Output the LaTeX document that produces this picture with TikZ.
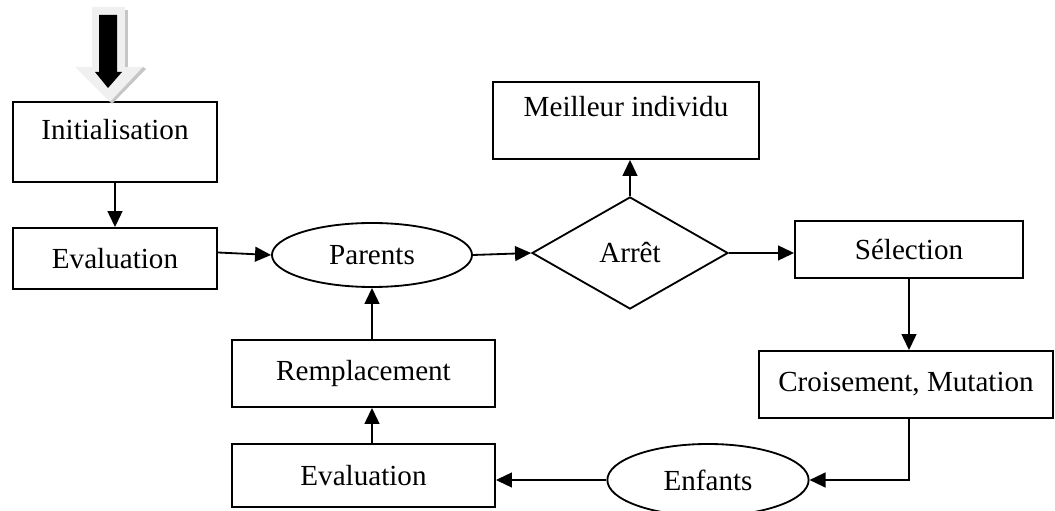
\documentclass[tikz,border=0pt]{standalone}
\usepackage{fontspec}
\setmainfont{Liberation Serif}
\usetikzlibrary{shapes.geometric,arrows.meta}

\begin{document}
\begin{tikzpicture}[x=0.025cm,y=-0.025cm,
    line width=1.3pt,
    font=\fontsize{20.7pt}{24pt}\selectfont,
    box/.style={draw,rectangle,inner sep=0pt},
    oval/.style={draw,ellipse,inner sep=0pt},
    >={Triangle[length=0.4cm,width=0.37cm]}]
\useasboundingbox (0,0) rectangle (1055,511);

\node (init) at (115,142) [box,minimum width=5.1cm,text height=0.95cm,text depth=1.05cm] {Initialisation};
\node (eval1) at (115,258.5) [box,minimum width=5.1cm,minimum height=1.525cm] {Evaluation};
\node (parents) at (372,255) [oval,minimum width=5cm,minimum height=1.6cm] {Parents};
\node (stop) at (630,253) [draw,diamond,inner sep=0pt,minimum width=4.9cm,minimum height=2.8cm] {Arrêt};
\node (best) at (626,120.5) [box,minimum width=6.65cm,text height=0.875cm,text depth=1.05cm] {Meilleur individu};
\node (select) at (909,249.5) [box,minimum width=5.7cm,minimum height=1.425cm] {Sélection};
\node (cross) at (906,384.5) [box,minimum width=7.35cm,minimum height=1.675cm] {Croisement, Mutation};
\node (children) at (708,480) [oval,minimum width=5.03cm,minimum height=1.8cm] {Enfants};
\node (eval2) at (363.5,475.5) [box,minimum width=6.575cm,minimum height=1.575cm] {Evaluation};
\node (repl) at (363.5,373.5) [box,minimum width=6.575cm,minimum height=1.675cm] {Remplacement};

% start arrow
\fill[gray!12] (92,7) -- (125,7) -- (125,67) -- (143,67) -- (110,102) -- (75,67) -- (92,67) -- cycle;
\fill[gray!45] (125,10) -- (128,10) -- (128,67) -- (125,67) -- cycle;
\fill[gray!45] (143,67) -- (146,69) -- (112,104) -- (110,102) -- cycle;
\fill[black] (99,15) -- (117,15) -- (117,72) -- (122,72) -- (108,88) -- (95,72) -- (99,72) -- cycle;

\path[->]
    (init) edge (eval1)
    ([yshift=0.15cm]eval1.east) edge (parents.west)
    (parents.east) edge (stop.west)
    (stop.north) edge (stop.north |- best.south)
    (stop.east) edge (stop.east -| select.west)
    (select.south) edge (select.south |- cross.north)
    (children.west) edge (children.west -| eval2.east)
    (eval2.north -| parents.south) edge (repl.south -| parents.south)
    (repl.north -| parents.south) edge (parents.south);

\draw[->] (select.south |- cross.south) |- (children.east);
\end{tikzpicture}
\end{document}
